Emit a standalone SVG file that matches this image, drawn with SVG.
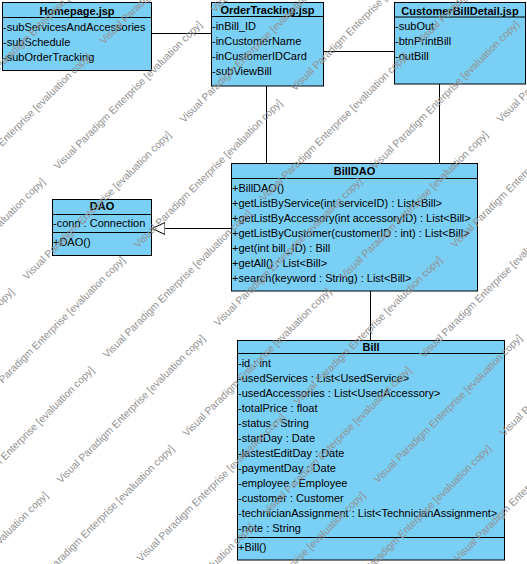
<svg xmlns="http://www.w3.org/2000/svg" width="527" height="564" viewBox="0 0 527 564">
  <style>
    .box { fill: #7acff5; stroke: #000; stroke-width: 1; }
    .sep { stroke: #000; stroke-width: 1; }
    .t { font-family: "Liberation Sans", Arial, sans-serif; font-size: 11px; fill: #000; }
    .h { font-weight: bold; text-anchor: middle; }
    .conn { stroke: #000; stroke-width: 1; fill: none; }
    .wm { font-family: "Liberation Sans", Arial, sans-serif; font-size: 10.3px; fill: #929292; }
  </style>
  <defs>
    <marker id="gen" markerUnits="userSpaceOnUse" markerWidth="14" markerHeight="14" refX="13" refY="6" orient="auto">
      <path d="M0,0 L13,6 L0,12 Z" fill="#fff" stroke="#000" stroke-width="1"/>
    </marker>
  </defs>

  <rect width="527" height="564" fill="#fff"/>

  <!-- connectors -->
  <g id="connectors">
    <line class="conn" x1="151.5" y1="33.5" x2="211.5" y2="33.5"/>
    <line class="conn" x1="323.5" y1="51.5" x2="394.5" y2="51.5"/>
    <line class="conn" x1="266.5" y1="86" x2="266.5" y2="163.5"/>
    <line class="conn" x1="439.5" y1="84" x2="439.5" y2="163.5"/>
    <line class="conn" x1="370.5" y1="291" x2="370.5" y2="340.5"/>
    <line class="conn" x1="231.5" y1="228.5" x2="152" y2="228.5" marker-end="url(#gen)"/>
  </g>

  <g id="homepage">
    <rect class="box" x="2.5" y="2.5" width="149" height="68"/>
    <line class="sep" x1="2.5" y1="17.5" x2="151.5" y2="17.5"/>
    <text class="t h" x="77" y="15">Homepage.jsp</text>
    <text class="t" x="3" y="31">-subServicesAndAccessories</text>
    <text class="t" x="3" y="46">-subSchedule</text>
    <text class="t" x="3" y="61">-subOrderTracking</text>
  </g>

  <g id="order-tracking">
    <rect class="box" x="211.5" y="2.5" width="112" height="83.5"/>
    <line class="sep" x1="211.5" y1="16.5" x2="323.5" y2="16.5"/>
    <text class="t h" x="267.5" y="14">OrderTracking.jsp</text>
    <text class="t" x="212" y="30">-inBill_ID</text>
    <text class="t" x="212" y="45">-inCustomerName</text>
    <text class="t" x="212" y="60">-inCustomerIDCard</text>
    <text class="t" x="212" y="75">-subViewBill</text>
  </g>

  <g id="customer-bill-detail">
    <rect class="box" x="394.5" y="2.5" width="131" height="81.5"/>
    <line class="sep" x1="394.5" y1="17" x2="525.5" y2="17"/>
    <text class="t h" x="460" y="14.5">CustomerBillDetail.jsp</text>
    <text class="t" x="395" y="30">-subOut</text>
    <text class="t" x="395" y="45">-btnPrintBill</text>
    <text class="t" x="395" y="60">-outBill</text>
  </g>

  <g id="dao">
    <rect class="box" x="52.5" y="199.5" width="99" height="56"/>
    <line class="sep" x1="52.5" y1="214.5" x2="151.5" y2="214.5"/>
    <line class="sep" x1="52.5" y1="232.5" x2="151.5" y2="232.5"/>
    <text class="t h" x="102" y="210">DAO</text>
    <text class="t" x="53" y="227">-conn : Connection</text>
    <text class="t" x="53" y="245.5">+DAO()</text>
  </g>

  <g id="bill-dao">
    <rect class="box" x="231.5" y="163.5" width="246" height="127.5"/>
    <line class="sep" x1="231.5" y1="178.5" x2="477.5" y2="178.5"/>
    <text class="t h" x="354.5" y="175">BillDAO</text>
    <text class="t" x="232" y="192">+BillDAO()</text>
    <text class="t" x="232" y="207">+getListByService(int serviceID) : List&lt;Bill&gt;</text>
    <text class="t" x="232" y="222">+getListByAccessory(int accessoryID) : List&lt;Bill&gt;</text>
    <text class="t" x="232" y="237">+getListByCustomer(customerID : int) : List&lt;Bill&gt;</text>
    <text class="t" x="232" y="252">+get(int bill_ID) : Bill</text>
    <text class="t" x="232" y="267">+getAll() : List&lt;Bill&gt;</text>
    <text class="t" x="232" y="282">+search(keyword : String) : List&lt;Bill&gt;</text>
  </g>

  <g id="bill">
    <rect class="box" x="237.5" y="340.5" width="267" height="219.5"/>
    <line class="sep" x1="237.5" y1="353.5" x2="504.5" y2="353.5"/>
    <line class="sep" x1="237.5" y1="537.5" x2="504.5" y2="537.5"/>
    <text class="t h" x="371" y="350.5">Bill</text>
    <text class="t" x="238" y="367">-id : int</text>
    <text class="t" x="238" y="382">-usedServices : List&lt;UsedService&gt;</text>
    <text class="t" x="238" y="397">-usedAccessories : List&lt;UsedAccessory&gt;</text>
    <text class="t" x="238" y="412">-totalPrice : float</text>
    <text class="t" x="238" y="427">-status : String</text>
    <text class="t" x="238" y="442">-startDay : Date</text>
    <text class="t" x="238" y="457">-lastestEditDay : Date</text>
    <text class="t" x="238" y="472">-paymentDay : Date</text>
    <text class="t" x="238" y="487">-employee : Employee</text>
    <text class="t" x="238" y="502">-customer : Customer</text>
    <text class="t" x="238" y="517">-technicianAssignment : List&lt;TechnicianAssignment&gt;</text>
    <text class="t" x="238" y="532">-note : String</text>
    <text class="t" x="238" y="551">+Bill()</text>
  </g>

  <!-- tiled edition stamp, drawn over everything -->
  <g id="stamp" class="wm">
    <text x="-22" y="91.6" transform="rotate(-45 -22 91.6)">Visual Paradigm Enterprise [evaluation copy]</text>
    <text x="-53" y="201.8" transform="rotate(-45 -53 201.8)">Visual Paradigm Enterprise [evaluation copy]</text>
    <text x="104" y="44.8" transform="rotate(-45 104 44.8)">Visual Paradigm Enterprise [evaluation copy]</text>
    <text x="-99" y="327" transform="rotate(-45 -99 327)">Visual Paradigm Enterprise [evaluation copy]</text>
    <text x="58" y="170" transform="rotate(-45 58 170)">Visual Paradigm Enterprise [evaluation copy]</text>
    <text x="215" y="13" transform="rotate(-45 215 13)">Visual Paradigm Enterprise [evaluation copy]</text>
    <text x="-130" y="437.2" transform="rotate(-45 -130 437.2)">Visual Paradigm Enterprise [evaluation copy]</text>
    <text x="27" y="280.2" transform="rotate(-45 27 280.2)">Visual Paradigm Enterprise [evaluation copy]</text>
    <text x="184" y="123.2" transform="rotate(-45 184 123.2)">Visual Paradigm Enterprise [evaluation copy]</text>
    <text x="-19" y="405.4" transform="rotate(-45 -19 405.4)">Visual Paradigm Enterprise [evaluation copy]</text>
    <text x="138" y="248.4" transform="rotate(-45 138 248.4)">Visual Paradigm Enterprise [evaluation copy]</text>
    <text x="295" y="91.4" transform="rotate(-45 295 91.4)">Visual Paradigm Enterprise [evaluation copy]</text>
    <text x="-50" y="515.6" transform="rotate(-45 -50 515.6)">Visual Paradigm Enterprise [evaluation copy]</text>
    <text x="107" y="358.6" transform="rotate(-45 107 358.6)">Visual Paradigm Enterprise [evaluation copy]</text>
    <text x="264" y="201.6" transform="rotate(-45 264 201.6)">Visual Paradigm Enterprise [evaluation copy]</text>
    <text x="421" y="44.6" transform="rotate(-45 421 44.6)">Visual Paradigm Enterprise [evaluation copy]</text>
    <text x="-96" y="640.8" transform="rotate(-45 -96 640.8)">Visual Paradigm Enterprise [evaluation copy]</text>
    <text x="61" y="483.8" transform="rotate(-45 61 483.8)">Visual Paradigm Enterprise [evaluation copy]</text>
    <text x="218" y="326.8" transform="rotate(-45 218 326.8)">Visual Paradigm Enterprise [evaluation copy]</text>
    <text x="375" y="169.8" transform="rotate(-45 375 169.8)">Visual Paradigm Enterprise [evaluation copy]</text>
    <text x="30" y="594" transform="rotate(-45 30 594)">Visual Paradigm Enterprise [evaluation copy]</text>
    <text x="187" y="437" transform="rotate(-45 187 437)">Visual Paradigm Enterprise [evaluation copy]</text>
    <text x="344" y="280" transform="rotate(-45 344 280)">Visual Paradigm Enterprise [evaluation copy]</text>
    <text x="501" y="123" transform="rotate(-45 501 123)">Visual Paradigm Enterprise [evaluation copy]</text>
    <text x="141" y="562.2" transform="rotate(-45 141 562.2)">Visual Paradigm Enterprise [evaluation copy]</text>
    <text x="298" y="405.2" transform="rotate(-45 298 405.2)">Visual Paradigm Enterprise [evaluation copy]</text>
    <text x="455" y="248.2" transform="rotate(-45 455 248.2)">Visual Paradigm Enterprise [evaluation copy]</text>
    <text x="110" y="672.4" transform="rotate(-45 110 672.4)">Visual Paradigm Enterprise [evaluation copy]</text>
    <text x="267" y="515.4" transform="rotate(-45 267 515.4)">Visual Paradigm Enterprise [evaluation copy]</text>
    <text x="424" y="358.4" transform="rotate(-45 424 358.4)">Visual Paradigm Enterprise [evaluation copy]</text>
    <text x="221" y="640.6" transform="rotate(-45 221 640.6)">Visual Paradigm Enterprise [evaluation copy]</text>
    <text x="378" y="483.6" transform="rotate(-45 378 483.6)">Visual Paradigm Enterprise [evaluation copy]</text>
    <text x="347" y="593.8" transform="rotate(-45 347 593.8)">Visual Paradigm Enterprise [evaluation copy]</text>
    <text x="504" y="436.8" transform="rotate(-45 504 436.8)">Visual Paradigm Enterprise [evaluation copy]</text>
    <text x="458" y="562" transform="rotate(-45 458 562)">Visual Paradigm Enterprise [evaluation copy]</text>
  </g>
</svg>
